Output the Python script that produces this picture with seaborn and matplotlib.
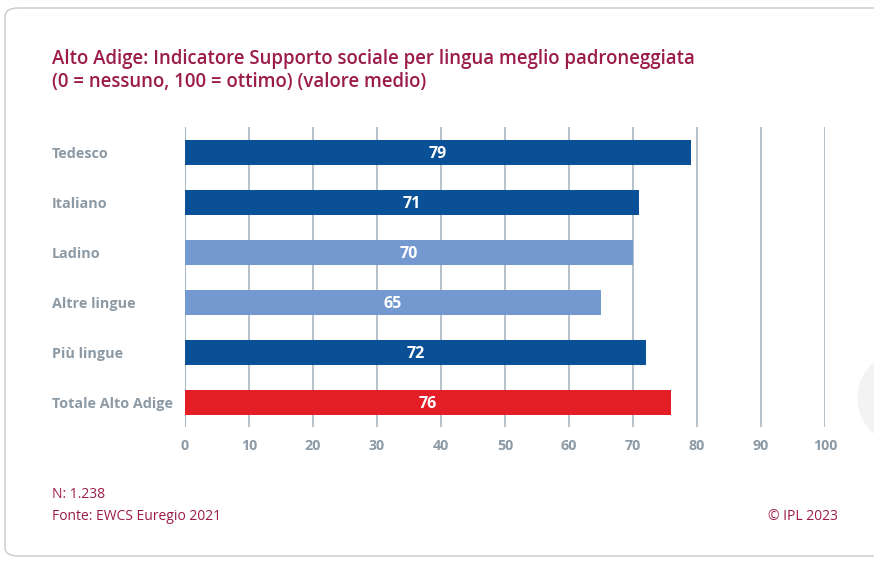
import matplotlib
matplotlib.use("Agg")
import matplotlib.pyplot as plt
import matplotlib.transforms as mtransforms
import seaborn as sns
import pandas as pd
from matplotlib.patches import FancyBboxPatch, Ellipse

categories = ["Tedesco", "Italiano", "Ladino", "Altre lingue", "Più lingue", "Totale Alto Adige"]
values = [79, 71, 70, 65, 72, 76]
colors = ["#0a5096", "#0a5096", "#7499d0", "#7499d0", "#0a5096", "#e31e26"]
xticks = [0, 10, 20, 30, 40, 50, 60, 70, 80, 90, 100]

title = "Alto Adige: Indicatore Supporto sociale per lingua meglio padroneggiata\n(0 = nessuno, 100 = ottimo) (valore medio)"
note_n = "N: 1.238"
note_src = "Fonte: EWCS Euregio 2021"
note_copy = "© IPL 2023"

sns.set_theme(style="white")
plt.rcParams['font.family'] = ['Open Sans', 'DejaVu Sans']

df = pd.DataFrame({"cat": categories, "val": values})

fig = plt.figure(figsize=(8.74, 5.62), dpi=100)
W, H = 874, 562
ax = fig.add_axes([185 / W, 1 - 427 / H, (825 - 185) / W, (427 - 127) / H])

# frame
frame = FancyBboxPatch((5 / W, 6 / H), 1.2, 1 - 8 / H - 6 / H,
                       boxstyle="round,pad=0,rounding_size=0.015",
                       transform=fig.transFigure, fill=False,
                       edgecolor="#c9c9c9", linewidth=1.0, zorder=0)
fig.patches.append(frame)
fig.patches.append(Ellipse((905 / W, 1 - 398 / H), 95 / W, 95 / H, transform=fig.transFigure,
                           facecolor="#f3f3f3", edgecolor="none", zorder=0))

sns.barplot(data=df, x="val", y="cat", hue="cat", palette=colors, legend=False,
            width=0.5, ax=ax, zorder=3, saturation=1, linewidth=0)

for i, v in enumerate(values):
    ax.text(v / 2, i + 0.05, str(v), ha="center", va="center", color="white",
            fontsize=11.5, fontweight="bold", zorder=4)

ax.set_xlim(0, 100)
ax.set_ylim(5.5, -0.5)
ax.set_xticks(xticks)
ax.set_xticklabels([str(t) for t in xticks])
ax.grid(axis="x", color="#aab6c0", linewidth=1.2, zorder=0)
ax.grid(axis="y", visible=False)
for s in ax.spines.values():
    s.set_visible(False)
ax.axvline(0, color="#aab6c0", linewidth=1.2, zorder=1)
ax.set_xlabel("")
ax.set_ylabel("")
ax.tick_params(axis="x", colors="#8c9aa5", labelsize=10.3, length=0, pad=9)
for lbl in ax.get_xticklabels():
    lbl.set_fontweight("bold")
ax.set_yticks(range(len(categories)))
ax.set_yticklabels([])
ax.tick_params(axis="y", length=0)

trans = mtransforms.blended_transform_factory(fig.transFigure, ax.transData)
for i, c in enumerate(categories):
    ax.text(52 / W, i + 0.04, c, transform=trans, ha="left", va="center",
            color="#8c9aa5", fontsize=10.4, fontweight="bold")

fig.text(52 / W, 1 - 49 / H, title, ha="left", va="top", color="#9b1c4a",
         fontsize=13.4, fontweight="semibold", linespacing=1.22)
fig.text(52 / W, 1 - 495 / H, note_n, ha="left", va="center", color="#9b1c4a", fontsize=10)
fig.text(52 / W, 1 - 516 / H, note_src, ha="left", va="center", color="#9b1c4a", fontsize=10)
fig.text(838 / W, 1 - 516 / H, note_copy, ha="right", va="center", color="#9b1c4a", fontsize=10)

fig.savefig("out.png", dpi=100)
